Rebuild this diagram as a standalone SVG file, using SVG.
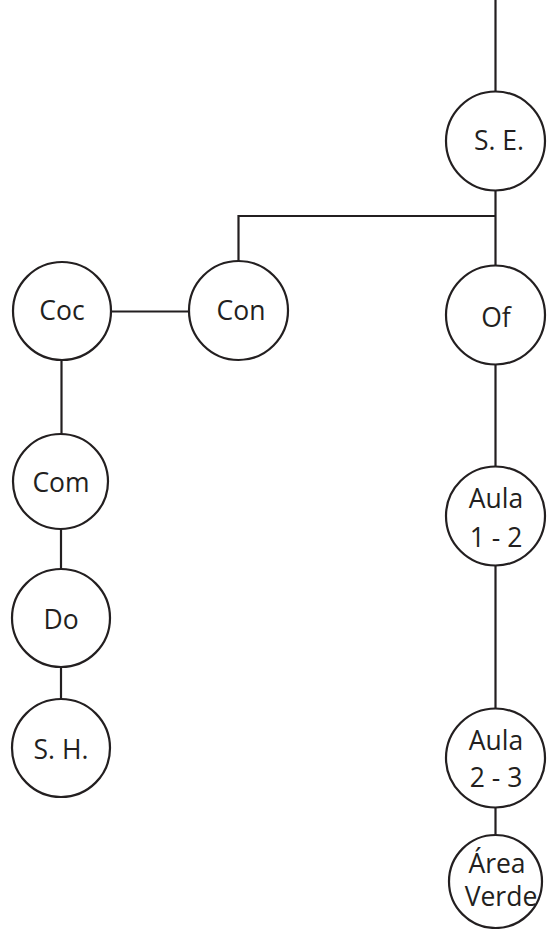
<svg xmlns="http://www.w3.org/2000/svg" width="547" height="929" viewBox="0 0 547 929">
<style>
.n{fill:#fff;stroke:#231f20;stroke-width:2.2}
.c{fill:none;stroke:#231f20;stroke-width:2.2}
text{font-family:"Open Sans","Noto Sans",sans-serif;font-size:26.5px;fill:#231f20;text-anchor:middle}
</style>
<rect width="547" height="929" fill="#fff"/>
<g id="connectors">
<path class="c" d="M495.5 0V92"/>
<path class="c" d="M495.5 190V266"/>
<path class="c" d="M238.5 261V216H495.5"/>
<path class="c" d="M111 311.5H189"/>
<path class="c" d="M61.5 360V434"/>
<path class="c" d="M61 529V569"/>
<path class="c" d="M61 667V699"/>
<path class="c" d="M495.5 364V467"/>
<path class="c" d="M495.5 565V709"/>
<path class="c" d="M495.5 807V835"/>
</g>
<g id="se"><circle class="n" cx="495.5" cy="141" r="49.5"/><text x="499" y="150">S. E.</text></g>
<g id="con"><circle class="n" cx="238.5" cy="310.5" r="49.5"/><text x="241" y="320">Con</text></g>
<g id="coc"><circle class="n" cx="62" cy="311" r="49"/><text x="62" y="320">Coc</text></g>
<g id="of"><circle class="n" cx="495.5" cy="315" r="49.5"/><text x="496" y="327">Of</text></g>
<g id="com"><circle class="n" cx="60.5" cy="481.5" r="47.5"/><text x="61" y="492">Com</text></g>
<g id="do"><circle class="n" cx="61" cy="618" r="49"/><text x="61" y="629">Do</text></g>
<g id="sh"><circle class="n" cx="61" cy="748" r="49"/><text x="61" y="759">S. H.</text></g>
<g id="aula12"><circle class="n" cx="495.5" cy="516" r="49.5"/><text x="496" y="508">Aula</text><text x="496" y="547">1 - 2</text></g>
<g id="aula23"><circle class="n" cx="495.5" cy="758" r="49.5"/><text x="496" y="750">Aula</text><text x="496" y="787">2 - 3</text></g>
<g id="area"><circle class="n" cx="495.5" cy="881.5" r="46.5"/><text x="497" y="873">Área</text><text x="501" y="906">Verde</text></g>
</svg>
